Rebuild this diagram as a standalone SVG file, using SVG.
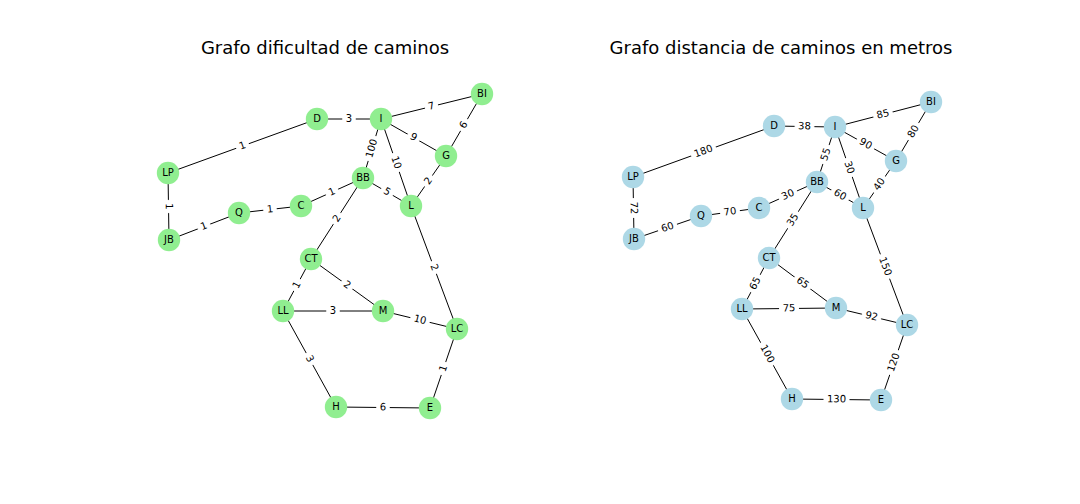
<svg xmlns="http://www.w3.org/2000/svg" width="1080" height="504" viewBox="0 0 1080 504">
<style>
  text { font-family: "DejaVu Sans", "Liberation Sans", sans-serif; fill: #000; }
  .title { font-size: 18px; text-anchor: middle; }
  .edge { stroke: #000; stroke-width: 1; }
  .n1 { fill: #90EE90; }
  .n2 { fill: #ADD8E6; }
  .nl { font-size: 10px; text-anchor: middle; }
  .el { font-size: 10px; text-anchor: middle; }
  .lb { fill: #fff; stroke: #fff; }
</style>
<rect width="1080" height="504" fill="#fff"/>
<text class="title" x="325" y="54">Grafo dificultad de caminos</text>
<text class="title" x="781" y="54">Grafo distancia de caminos en metros</text>

<g id="connectors-left">
  <line class="edge" x1="168" y1="173" x2="317" y2="119"/>
  <line class="edge" x1="317" y1="119" x2="381" y2="119"/>
  <line class="edge" x1="381" y1="119" x2="482" y2="94"/>
  <line class="edge" x1="381" y1="119" x2="446" y2="156"/>
  <line class="edge" x1="482" y1="94" x2="446" y2="156"/>
  <line class="edge" x1="381" y1="119" x2="363" y2="178"/>
  <line class="edge" x1="381" y1="119" x2="411" y2="206"/>
  <line class="edge" x1="446" y1="156" x2="411" y2="206"/>
  <line class="edge" x1="363" y1="178" x2="411" y2="206"/>
  <line class="edge" x1="363" y1="178" x2="301" y2="206"/>
  <line class="edge" x1="301" y1="206" x2="239" y2="213"/>
  <line class="edge" x1="239" y1="213" x2="169" y2="240"/>
  <line class="edge" x1="168" y1="173" x2="169" y2="240"/>
  <line class="edge" x1="363" y1="178" x2="311" y2="259"/>
  <line class="edge" x1="411" y1="206" x2="457" y2="329"/>
  <line class="edge" x1="311" y1="259" x2="283" y2="311"/>
  <line class="edge" x1="311" y1="259" x2="383" y2="311"/>
  <line class="edge" x1="283" y1="311" x2="383" y2="311"/>
  <line class="edge" x1="383" y1="311" x2="457" y2="329"/>
  <line class="edge" x1="283" y1="311" x2="336" y2="407"/>
  <line class="edge" x1="336" y1="407" x2="430" y2="408"/>
  <line class="edge" x1="430" y1="408" x2="457" y2="329"/>
</g>

<g id="connectors-right">
  <line class="edge" x1="633" y1="177" x2="774" y2="126"/>
  <line class="edge" x1="774" y1="126" x2="835" y2="127"/>
  <line class="edge" x1="835" y1="127" x2="931" y2="102"/>
  <line class="edge" x1="835" y1="127" x2="896" y2="161"/>
  <line class="edge" x1="931" y1="102" x2="896" y2="161"/>
  <line class="edge" x1="835" y1="127" x2="817" y2="182"/>
  <line class="edge" x1="835" y1="127" x2="863" y2="208"/>
  <line class="edge" x1="896" y1="161" x2="863" y2="208"/>
  <line class="edge" x1="817" y1="182" x2="863" y2="208"/>
  <line class="edge" x1="817" y1="182" x2="759" y2="208"/>
  <line class="edge" x1="759" y1="208" x2="701" y2="216"/>
  <line class="edge" x1="701" y1="216" x2="634" y2="239"/>
  <line class="edge" x1="633" y1="177" x2="634" y2="239"/>
  <line class="edge" x1="817" y1="182" x2="769" y2="258"/>
  <line class="edge" x1="863" y1="208" x2="907" y2="325"/>
  <line class="edge" x1="769" y1="258" x2="742" y2="309"/>
  <line class="edge" x1="769" y1="258" x2="836" y2="308"/>
  <line class="edge" x1="742" y1="309" x2="836" y2="308"/>
  <line class="edge" x1="836" y1="308" x2="907" y2="325"/>
  <line class="edge" x1="742" y1="309" x2="792" y2="399"/>
  <line class="edge" x1="792" y1="399" x2="881" y2="400"/>
  <line class="edge" x1="881" y1="400" x2="907" y2="325"/>
</g>

<g id="g1-D"><circle class="n1" cx="317" cy="119" r="11.2"/><text class="nl" x="317" y="119" dy="0.28em">D</text></g>
<g id="g1-I"><circle class="n1" cx="381" cy="119" r="11.2"/><text class="nl" x="381" y="119" dy="0.28em">I</text></g>
<g id="g1-BI"><circle class="n1" cx="482" cy="94" r="11.2"/><text class="nl" x="482" y="94" dy="0.28em">BI</text></g>
<g id="g1-LP"><circle class="n1" cx="168" cy="173" r="11.2"/><text class="nl" x="168" y="173" dy="0.28em">LP</text></g>
<g id="g1-G"><circle class="n1" cx="446" cy="156" r="11.2"/><text class="nl" x="446" y="156" dy="0.28em">G</text></g>
<g id="g1-BB"><circle class="n1" cx="363" cy="178" r="11.2"/><text class="nl" x="363" y="178" dy="0.28em">BB</text></g>
<g id="g1-L"><circle class="n1" cx="411" cy="206" r="11.2"/><text class="nl" x="411" y="206" dy="0.28em">L</text></g>
<g id="g1-C"><circle class="n1" cx="301" cy="206" r="11.2"/><text class="nl" x="301" y="206" dy="0.28em">C</text></g>
<g id="g1-Q"><circle class="n1" cx="239" cy="213" r="11.2"/><text class="nl" x="239" y="213" dy="0.28em">Q</text></g>
<g id="g1-JB"><circle class="n1" cx="169" cy="240" r="11.2"/><text class="nl" x="169" y="240" dy="0.28em">JB</text></g>
<g id="g1-CT"><circle class="n1" cx="311" cy="259" r="11.2"/><text class="nl" x="311" y="259" dy="0.28em">CT</text></g>
<g id="g1-LL"><circle class="n1" cx="283" cy="311" r="11.2"/><text class="nl" x="283" y="311" dy="0.28em">LL</text></g>
<g id="g1-M"><circle class="n1" cx="383" cy="311" r="11.2"/><text class="nl" x="383" y="311" dy="0.28em">M</text></g>
<g id="g1-LC"><circle class="n1" cx="457" cy="329" r="11.2"/><text class="nl" x="457" y="329" dy="0.28em">LC</text></g>
<g id="g1-H"><circle class="n1" cx="336" cy="407" r="11.2"/><text class="nl" x="336" y="407" dy="0.28em">H</text></g>
<g id="g1-E"><circle class="n1" cx="430" cy="408" r="11.2"/><text class="nl" x="430" y="408" dy="0.28em">E</text></g>

<g id="g2-D"><circle class="n2" cx="774" cy="126" r="11.2"/><text class="nl" x="774" y="126" dy="0.28em">D</text></g>
<g id="g2-I"><circle class="n2" cx="835" cy="127" r="11.2"/><text class="nl" x="835" y="127" dy="0.28em">I</text></g>
<g id="g2-BI"><circle class="n2" cx="931" cy="102" r="11.2"/><text class="nl" x="931" y="102" dy="0.28em">BI</text></g>
<g id="g2-LP"><circle class="n2" cx="633" cy="177" r="11.2"/><text class="nl" x="633" y="177" dy="0.28em">LP</text></g>
<g id="g2-G"><circle class="n2" cx="896" cy="161" r="11.2"/><text class="nl" x="896" y="161" dy="0.28em">G</text></g>
<g id="g2-BB"><circle class="n2" cx="817" cy="182" r="11.2"/><text class="nl" x="817" y="182" dy="0.28em">BB</text></g>
<g id="g2-L"><circle class="n2" cx="863" cy="208" r="11.2"/><text class="nl" x="863" y="208" dy="0.28em">L</text></g>
<g id="g2-C"><circle class="n2" cx="759" cy="208" r="11.2"/><text class="nl" x="759" y="208" dy="0.28em">C</text></g>
<g id="g2-Q"><circle class="n2" cx="701" cy="216" r="11.2"/><text class="nl" x="701" y="216" dy="0.28em">Q</text></g>
<g id="g2-JB"><circle class="n2" cx="634" cy="239" r="11.2"/><text class="nl" x="634" y="239" dy="0.28em">JB</text></g>
<g id="g2-CT"><circle class="n2" cx="769" cy="258" r="11.2"/><text class="nl" x="769" y="258" dy="0.28em">CT</text></g>
<g id="g2-LL"><circle class="n2" cx="742" cy="309" r="11.2"/><text class="nl" x="742" y="309" dy="0.28em">LL</text></g>
<g id="g2-M"><circle class="n2" cx="836" cy="308" r="11.2"/><text class="nl" x="836" y="308" dy="0.28em">M</text></g>
<g id="g2-LC"><circle class="n2" cx="907" cy="325" r="11.2"/><text class="nl" x="907" y="325" dy="0.28em">LC</text></g>
<g id="g2-H"><circle class="n2" cx="792" cy="399" r="11.2"/><text class="nl" x="792" y="399" dy="0.28em">H</text></g>
<g id="g2-E"><circle class="n2" cx="881" cy="400" r="11.2"/><text class="nl" x="881" y="400" dy="0.28em">E</text></g>

<g id="edge-labels-left">
  <g transform="translate(242.5,146) rotate(-19.9)"><rect class="lb" x="-6.2" y="-7.8" width="12.4" height="15.6" rx="3"/><text class="el" dy="0.28em">1</text></g>
  <g transform="translate(349,119)"><rect class="lb" x="-6.2" y="-7.8" width="12.4" height="15.6" rx="3"/><text class="el" dy="0.28em">3</text></g>
  <g transform="translate(431.5,106.5) rotate(-13.9)"><rect class="lb" x="-6.2" y="-7.8" width="12.4" height="15.6" rx="3"/><text class="el" dy="0.28em">7</text></g>
  <g transform="translate(413.5,137.5) rotate(29.7)"><rect class="lb" x="-6.2" y="-7.8" width="12.4" height="15.6" rx="3"/><text class="el" dy="0.28em">9</text></g>
  <g transform="translate(464,125) rotate(-59.9)"><rect class="lb" x="-6.2" y="-7.8" width="12.4" height="15.6" rx="3"/><text class="el" dy="0.28em">6</text></g>
  <g transform="translate(372,148.5) rotate(-73)"><rect class="lb" x="-12.5" y="-7.8" width="25" height="15.6" rx="3"/><text class="el" dy="0.28em">100</text></g>
  <g transform="translate(396,162.5) rotate(71)"><rect class="lb" x="-9.4" y="-7.8" width="18.8" height="15.6" rx="3"/><text class="el" dy="0.28em">10</text></g>
  <g transform="translate(428.5,181) rotate(-55)"><rect class="lb" x="-6.2" y="-7.8" width="12.4" height="15.6" rx="3"/><text class="el" dy="0.28em">2</text></g>
  <g transform="translate(387,192) rotate(30.3)"><rect class="lb" x="-6.2" y="-7.8" width="12.4" height="15.6" rx="3"/><text class="el" dy="0.28em">5</text></g>
  <g transform="translate(332,192) rotate(-24.3)"><rect class="lb" x="-6.2" y="-7.8" width="12.4" height="15.6" rx="3"/><text class="el" dy="0.28em">1</text></g>
  <g transform="translate(270,209.5) rotate(-6.4)"><rect class="lb" x="-6.2" y="-7.8" width="12.4" height="15.6" rx="3"/><text class="el" dy="0.28em">1</text></g>
  <g transform="translate(204,226.5) rotate(-21.1)"><rect class="lb" x="-6.2" y="-7.8" width="12.4" height="15.6" rx="3"/><text class="el" dy="0.28em">1</text></g>
  <g transform="translate(168.5,206.5) rotate(89.1)"><rect class="lb" x="-6.2" y="-7.8" width="12.4" height="15.6" rx="3"/><text class="el" dy="0.28em">1</text></g>
  <g transform="translate(337,218.5) rotate(-57.3)"><rect class="lb" x="-6.2" y="-7.8" width="12.4" height="15.6" rx="3"/><text class="el" dy="0.28em">2</text></g>
  <g transform="translate(434,267.5) rotate(69.5)"><rect class="lb" x="-6.2" y="-7.8" width="12.4" height="15.6" rx="3"/><text class="el" dy="0.28em">2</text></g>
  <g transform="translate(297,285) rotate(-61.7)"><rect class="lb" x="-6.2" y="-7.8" width="12.4" height="15.6" rx="3"/><text class="el" dy="0.28em">1</text></g>
  <g transform="translate(347,285) rotate(35.8)"><rect class="lb" x="-6.2" y="-7.8" width="12.4" height="15.6" rx="3"/><text class="el" dy="0.28em">2</text></g>
  <g transform="translate(333,311)"><rect class="lb" x="-6.2" y="-7.8" width="12.4" height="15.6" rx="3"/><text class="el" dy="0.28em">3</text></g>
  <g transform="translate(420,320) rotate(13.7)"><rect class="lb" x="-9.4" y="-7.8" width="18.8" height="15.6" rx="3"/><text class="el" dy="0.28em">10</text></g>
  <g transform="translate(309.5,359) rotate(61.1)"><rect class="lb" x="-6.2" y="-7.8" width="12.4" height="15.6" rx="3"/><text class="el" dy="0.28em">3</text></g>
  <g transform="translate(383,407.5) rotate(0.6)"><rect class="lb" x="-6.2" y="-7.8" width="12.4" height="15.6" rx="3"/><text class="el" dy="0.28em">6</text></g>
  <g transform="translate(443.5,368.5) rotate(-71.1)"><rect class="lb" x="-6.2" y="-7.8" width="12.4" height="15.6" rx="3"/><text class="el" dy="0.28em">1</text></g>
</g>

<g id="edge-labels-right">
  <g transform="translate(703.5,151.5) rotate(-19.9)"><rect class="lb" x="-12.5" y="-7.8" width="25" height="15.6" rx="3"/><text class="el" dy="0.28em">180</text></g>
  <g transform="translate(804.5,126.5) rotate(0.9)"><rect class="lb" x="-9.4" y="-7.8" width="18.8" height="15.6" rx="3"/><text class="el" dy="0.28em">38</text></g>
  <g transform="translate(883,114.5) rotate(-14.6)"><rect class="lb" x="-9.4" y="-7.8" width="18.8" height="15.6" rx="3"/><text class="el" dy="0.28em">85</text></g>
  <g transform="translate(865.5,144) rotate(29.1)"><rect class="lb" x="-9.4" y="-7.8" width="18.8" height="15.6" rx="3"/><text class="el" dy="0.28em">90</text></g>
  <g transform="translate(913.5,131.5) rotate(-59.3)"><rect class="lb" x="-9.4" y="-7.8" width="18.8" height="15.6" rx="3"/><text class="el" dy="0.28em">80</text></g>
  <g transform="translate(826,154.5) rotate(-71.9)"><rect class="lb" x="-9.4" y="-7.8" width="18.8" height="15.6" rx="3"/><text class="el" dy="0.28em">55</text></g>
  <g transform="translate(849,167.5) rotate(70.9)"><rect class="lb" x="-9.4" y="-7.8" width="18.8" height="15.6" rx="3"/><text class="el" dy="0.28em">30</text></g>
  <g transform="translate(879.5,184.5) rotate(-54.9)"><rect class="lb" x="-9.4" y="-7.8" width="18.8" height="15.6" rx="3"/><text class="el" dy="0.28em">40</text></g>
  <g transform="translate(840,195) rotate(29.5)"><rect class="lb" x="-9.4" y="-7.8" width="18.8" height="15.6" rx="3"/><text class="el" dy="0.28em">60</text></g>
  <g transform="translate(788,195) rotate(-24.1)"><rect class="lb" x="-9.4" y="-7.8" width="18.8" height="15.6" rx="3"/><text class="el" dy="0.28em">30</text></g>
  <g transform="translate(730,212) rotate(-7.9)"><rect class="lb" x="-9.4" y="-7.8" width="18.8" height="15.6" rx="3"/><text class="el" dy="0.28em">70</text></g>
  <g transform="translate(667.5,227.5) rotate(-18.9)"><rect class="lb" x="-9.4" y="-7.8" width="18.8" height="15.6" rx="3"/><text class="el" dy="0.28em">60</text></g>
  <g transform="translate(633.5,208) rotate(89.1)"><rect class="lb" x="-9.4" y="-7.8" width="18.8" height="15.6" rx="3"/><text class="el" dy="0.28em">72</text></g>
  <g transform="translate(793,220) rotate(-57.7)"><rect class="lb" x="-9.4" y="-7.8" width="18.8" height="15.6" rx="3"/><text class="el" dy="0.28em">35</text></g>
  <g transform="translate(885,266.5) rotate(69.4)"><rect class="lb" x="-12.5" y="-7.8" width="25" height="15.6" rx="3"/><text class="el" dy="0.28em">150</text></g>
  <g transform="translate(755.5,283.5) rotate(-62.1)"><rect class="lb" x="-9.4" y="-7.8" width="18.8" height="15.6" rx="3"/><text class="el" dy="0.28em">65</text></g>
  <g transform="translate(802.5,283) rotate(36.7)"><rect class="lb" x="-9.4" y="-7.8" width="18.8" height="15.6" rx="3"/><text class="el" dy="0.28em">65</text></g>
  <g transform="translate(789,308.5) rotate(-0.6)"><rect class="lb" x="-9.4" y="-7.8" width="18.8" height="15.6" rx="3"/><text class="el" dy="0.28em">75</text></g>
  <g transform="translate(871.5,316.5) rotate(13.5)"><rect class="lb" x="-9.4" y="-7.8" width="18.8" height="15.6" rx="3"/><text class="el" dy="0.28em">92</text></g>
  <g transform="translate(767,354) rotate(60.9)"><rect class="lb" x="-12.5" y="-7.8" width="25" height="15.6" rx="3"/><text class="el" dy="0.28em">100</text></g>
  <g transform="translate(836.5,399.5) rotate(0.6)"><rect class="lb" x="-12.5" y="-7.8" width="25" height="15.6" rx="3"/><text class="el" dy="0.28em">130</text></g>
  <g transform="translate(894,362.5) rotate(-70.9)"><rect class="lb" x="-12.5" y="-7.8" width="25" height="15.6" rx="3"/><text class="el" dy="0.28em">120</text></g>
</g>
</svg>
